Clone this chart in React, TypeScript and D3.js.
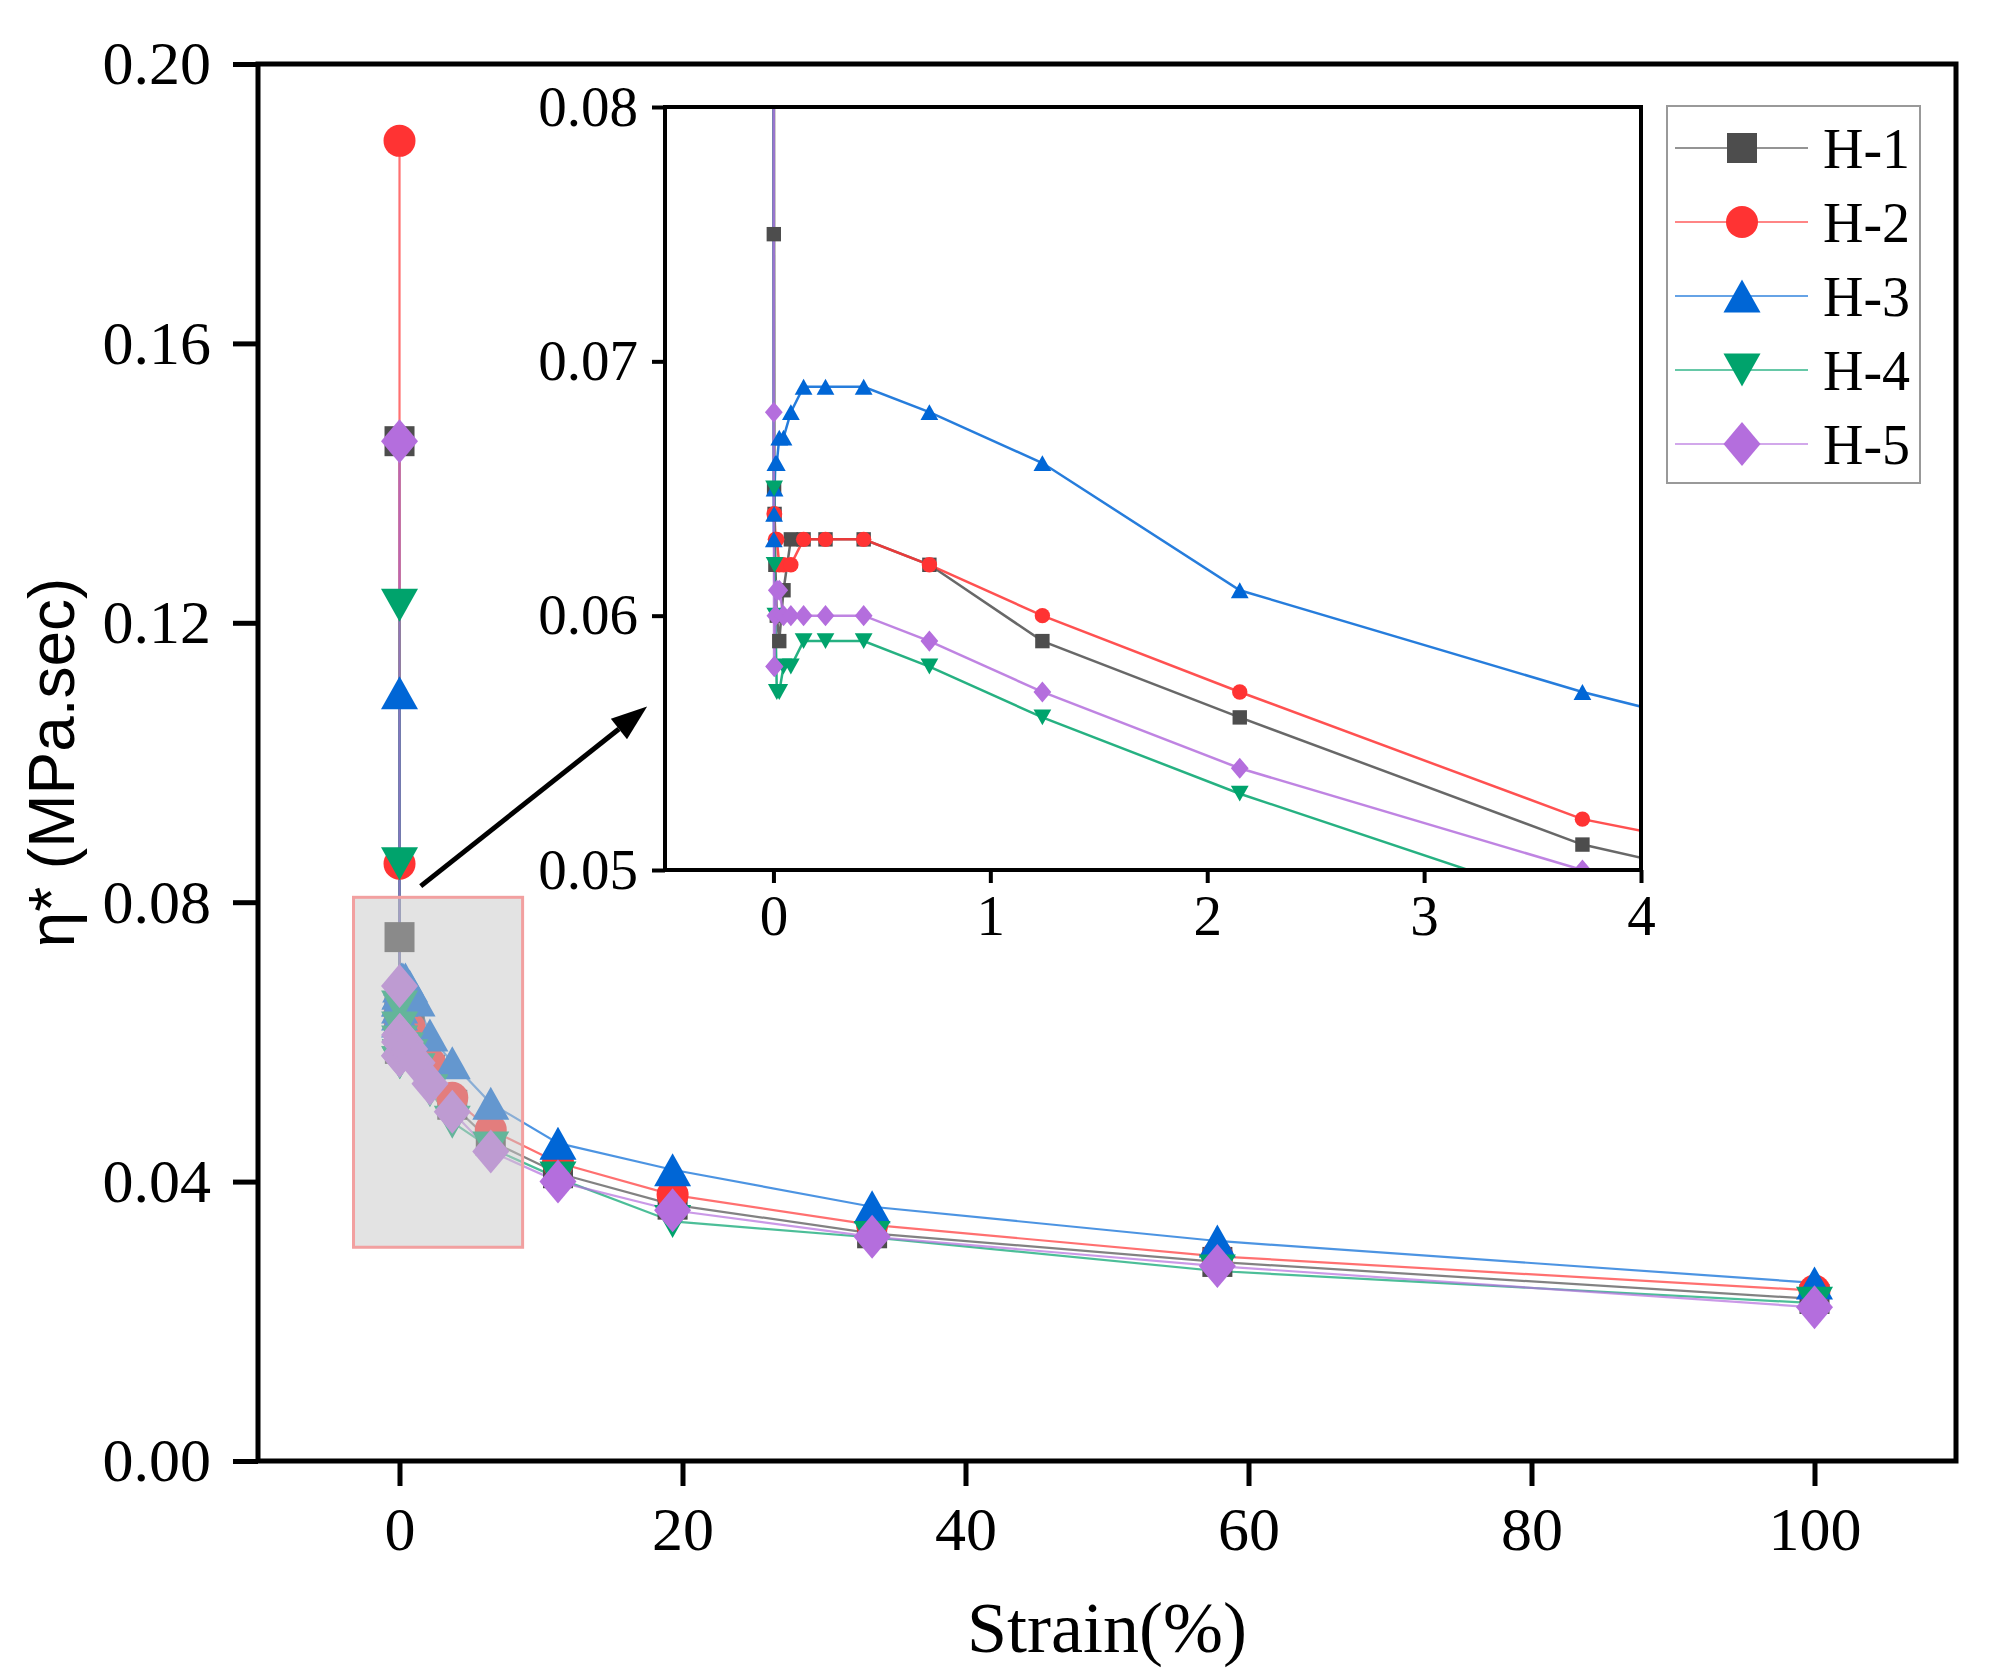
// @ts-nocheck
import { useEffect, useRef } from "react";
import * as d3 from "d3";

// strain (%) of every sweep point
const strain = [
  0.001, 0.00173, 0.00299, 0.00518, 0.00896, 0.0155, 0.0268, 0.0464, 0.0803,
  0.139, 0.24, 0.416, 0.719, 1.24, 2.15, 3.73, 6.45, 11.2, 19.3, 33.4, 57.8, 100,
];

// complex viscosity (MPa.sec)
const h1 = [
  0.146, 0.075, 0.065, 0.064, 0.062, 0.06, 0.059, 0.061, 0.063, 0.063, 0.063,
  0.063, 0.062, 0.059, 0.056, 0.051, 0.0458, 0.0412, 0.0367, 0.0326, 0.0285, 0.0232,
];
const h2 = [
  0.189, 0.0855, 0.064, 0.064, 0.063, 0.063, 0.062, 0.062, 0.062, 0.063, 0.063,
  0.063, 0.062, 0.06, 0.057, 0.052, 0.0474, 0.0427, 0.0381, 0.0338, 0.0293, 0.0244,
];
const h3 = [
  0.11, 0.063, 0.064, 0.065, 0.066, 0.066, 0.067, 0.067, 0.068, 0.069, 0.069,
  0.069, 0.068, 0.066, 0.061, 0.057, 0.0512, 0.0455, 0.0417, 0.0364, 0.0315, 0.0255,
];
const h4 = [
  0.1225, 0.0855, 0.065, 0.062, 0.06, 0.057, 0.057, 0.058, 0.058, 0.059, 0.059,
  0.059, 0.058, 0.056, 0.053, 0.0485, 0.0448, 0.0405, 0.0343, 0.032, 0.0272, 0.0226,
];
const h5 = [
  0.146, 0.068, 0.058, 0.058, 0.06, 0.061, 0.061, 0.06, 0.06, 0.06, 0.06, 0.06,
  0.059, 0.057, 0.054, 0.05, 0.0443, 0.04, 0.0359, 0.0321, 0.0279, 0.022,
];

const seriesNames = ["H-1", "H-2", "H-3", "H-4", "H-5"];
const seriesValues = [h1, h2, h3, h4, h5];
const seriesColors = ["#4d4d4d", "#ff3333", "#0066d6", "#00a36c", "#b46edd"];
const seriesShapes = ["square", "circle", "up", "down", "diamond"];

const mainXTicks = [0, 20, 40, 60, 80, 100];
const mainYTicks = [0, 0.04, 0.08, 0.12, 0.16, 0.2];
const insetXTicks = [0, 1, 2, 3, 4];
const insetYTicks = [0.05, 0.06, 0.07, 0.08];

// zoom box and arrow, in main-axis units
const zoomBox = { x0: -3.25, x1: 8.7, y0: 0.0306, y1: 0.0807 };
const arrow = { x0: 1.5, y0: 0.0823, x1: 17.5, y1: 0.108 };

const W = 2006;
const H = 1679;
const FONT = "'Liberation Serif', 'Times New Roman', serif";
const SANS = "'Liberation Sans', Arial, sans-serif";

const markerPath = (shape, k) => {
  if (shape === "square") {
    const s = 30 * k;
    return `M${-s / 2},${-s / 2}h${s}v${s}h${-s}Z`;
  }
  if (shape === "circle") {
    const r = 16 * k;
    return `M${r},0A${r},${r} 0 1,1 ${-r},0A${r},${r} 0 1,1 ${r},0Z`;
  }
  if (shape === "up") {
    const w = 37 * k, h = 33 * k;
    return `M0,${-h / 2}L${w / 2},${h / 2}L${-w / 2},${h / 2}Z`;
  }
  if (shape === "down") {
    const w = 37 * k, h = 33 * k;
    return `M0,${h / 2}L${w / 2},${-h / 2}L${-w / 2},${-h / 2}Z`;
  }
  const w = 37 * k, h = 44 * k;
  return `M0,${-h / 2}L${w / 2},0L0,${h / 2}L${-w / 2},0Z`;
};

export default function App() {
  const ref = useRef();

  useEffect(() => {
    document.body.style.margin = "0";
    const svg = d3.select(ref.current);
    svg.selectAll("*").remove();

    const main = { left: 258, right: 1956, top: 64, bottom: 1461 };
    const inset = { left: 665, right: 1641, top: 107, bottom: 870 };

    const x = d3.scaleLinear().domain([-10, 110]).range([main.left, main.right]);
    const y = d3.scaleLinear().domain([0, 0.2]).range([main.bottom, main.top]);
    const xi = d3.scaleLinear().domain([-0.5, 4]).range([inset.left, inset.right]);
    const yi = d3.scaleLinear().domain([0.05, 0.08]).range([inset.bottom, inset.top]);

    svg.append("rect").attr("width", W).attr("height", H).attr("fill", "#fff");

    // main series
    const mainG = svg.append("g");
    seriesValues.forEach((vals, s) => {
      const pts = vals.map((v, i) => [strain[i], v]);
      mainG
        .append("path")
        .datum(pts)
        .attr("fill", "none")
        .attr("stroke", seriesColors[s])
        .attr("stroke-opacity", 0.7)
        .attr("stroke-width", 2.2)
        .attr("d", d3.line().x((d) => x(d[0])).y((d) => y(d[1])));
    });
    seriesValues.forEach((vals, s) => {
      mainG
        .selectAll(null)
        .data(vals.map((v, i) => [strain[i], v]))
        .join("path")
        .attr("transform", (d) => `translate(${x(d[0])},${y(d[1])})`)
        .attr("d", markerPath(seriesShapes[s], 1))
        .attr("fill", seriesColors[s]);
    });

    // zoom box
    svg
      .append("rect")
      .attr("x", x(zoomBox.x0))
      .attr("y", y(zoomBox.y1))
      .attr("width", x(zoomBox.x1) - x(zoomBox.x0))
      .attr("height", y(zoomBox.y0) - y(zoomBox.y1))
      .attr("fill", "rgba(200,200,200,0.5)")
      .attr("stroke", "#f2a0a0")
      .attr("stroke-width", 3);

    // arrow
    const ax0 = x(arrow.x0), ay0 = y(arrow.y0), ax1 = x(arrow.x1), ay1 = y(arrow.y1);
    const ang = Math.atan2(ay1 - ay0, ax1 - ax0);
    const hl = 36, hw = 13;
    const bx = ax1 - hl * Math.cos(ang), by = ay1 - hl * Math.sin(ang);
    svg
      .append("line")
      .attr("x1", ax0).attr("y1", ay0).attr("x2", bx).attr("y2", by)
      .attr("stroke", "#000").attr("stroke-width", 5);
    svg
      .append("path")
      .attr(
        "d",
        `M${ax1},${ay1}L${bx + hw * Math.sin(ang)},${by - hw * Math.cos(ang)}L${bx - hw * Math.sin(ang)},${by + hw * Math.cos(ang)}Z`
      )
      .attr("fill", "#000");

    // inset
    svg
      .append("defs")
      .append("clipPath")
      .attr("id", "insetClip")
      .append("rect")
      .attr("x", inset.left)
      .attr("y", inset.top)
      .attr("width", inset.right - inset.left)
      .attr("height", inset.bottom - inset.top);
    svg
      .append("rect")
      .attr("x", inset.left).attr("y", inset.top)
      .attr("width", inset.right - inset.left)
      .attr("height", inset.bottom - inset.top)
      .attr("fill", "#fff");
    const insetG = svg.append("g").attr("clip-path", "url(#insetClip)");
    seriesValues.forEach((vals, s) => {
      const pts = vals.map((v, i) => [strain[i], v]);
      insetG
        .append("path")
        .datum(pts)
        .attr("fill", "none")
        .attr("stroke", seriesColors[s])
        .attr("stroke-opacity", 0.85)
        .attr("stroke-width", 2.5)
        .attr("d", d3.line().x((d) => xi(d[0])).y((d) => yi(d[1])));
    });
    seriesValues.forEach((vals, s) => {
      insetG
        .selectAll(null)
        .data(vals.map((v, i) => [strain[i], v]).filter((d) => d[0] < 4.5))
        .join("path")
        .attr("transform", (d) => `translate(${xi(d[0])},${yi(d[1])})`)
        .attr("d", markerPath(seriesShapes[s], 0.48))
        .attr("fill", seriesColors[s]);
    });
    svg
      .append("rect")
      .attr("x", inset.left).attr("y", inset.top)
      .attr("width", inset.right - inset.left)
      .attr("height", inset.bottom - inset.top)
      .attr("fill", "none")
      .attr("stroke", "#000")
      .attr("stroke-width", 4);

    const insetXAxis = svg
      .append("g")
      .attr("transform", `translate(0,${inset.bottom})`)
      .call(d3.axisBottom(xi).tickValues(insetXTicks).tickFormat(d3.format("d")).tickSizeInner(13).tickSizeOuter(0).tickPadding(12));
    const insetYAxis = svg
      .append("g")
      .attr("transform", `translate(${inset.left},0)`)
      .call(d3.axisLeft(yi).tickValues(insetYTicks).tickFormat(d3.format(".2f")).tickSizeInner(13).tickSizeOuter(0).tickPadding(14));
    [insetXAxis, insetYAxis].forEach((g) => {
      g.select(".domain").remove();
      g.selectAll(".tick line").attr("stroke", "#000").attr("stroke-width", 4);
      g.selectAll(".tick text")
        .attr("font-family", FONT)
        .attr("font-size", 57)
        .attr("fill", "#000");
    });

    // main frame and axes
    svg
      .append("rect")
      .attr("x", main.left).attr("y", main.top)
      .attr("width", main.right - main.left)
      .attr("height", main.bottom - main.top)
      .attr("fill", "none")
      .attr("stroke", "#000")
      .attr("stroke-width", 5);
    const xAxis = svg
      .append("g")
      .attr("transform", `translate(0,${main.bottom})`)
      .call(d3.axisBottom(x).tickValues(mainXTicks).tickFormat(d3.format("d")).tickSizeInner(25).tickSizeOuter(0).tickPadding(20));
    const yAxis = svg
      .append("g")
      .attr("transform", `translate(${main.left},0)`)
      .call(d3.axisLeft(y).tickValues(mainYTicks).tickFormat(d3.format(".2f")).tickSizeInner(25).tickSizeOuter(0).tickPadding(22));
    [xAxis, yAxis].forEach((g) => {
      g.select(".domain").remove();
      g.selectAll(".tick line").attr("stroke", "#000").attr("stroke-width", 5);
      g.selectAll(".tick text")
        .attr("font-family", FONT)
        .attr("font-size", 62)
        .attr("fill", "#000");
    });

    // axis titles
    svg
      .append("text")
      .attr("x", (main.left + main.right) / 2)
      .attr("y", 1652)
      .attr("text-anchor", "middle")
      .attr("font-family", FONT)
      .attr("font-size", 72)
      .text("Strain(%)");
    svg
      .append("text")
      .attr("transform", `translate(74,${(main.top + main.bottom) / 2}) rotate(-90)`)
      .attr("text-anchor", "middle")
      .attr("font-family", SANS)
      .attr("font-size", 64)
      .text("η* (MPa.sec)");

    // legend
    const lg = svg.append("g");
    lg.append("rect")
      .attr("x", 1667).attr("y", 106)
      .attr("width", 253).attr("height", 377)
      .attr("fill", "#fff")
      .attr("stroke", "#999")
      .attr("stroke-width", 2);
    seriesNames.forEach((name, s) => {
      const ly = 148 + s * 74;
      lg.append("line")
        .attr("x1", 1675).attr("x2", 1808).attr("y1", ly).attr("y2", ly)
        .attr("stroke", seriesColors[s]).attr("stroke-opacity", 0.6).attr("stroke-width", 2);
      lg.append("path")
        .attr("transform", `translate(1742,${ly})`)
        .attr("d", markerPath(seriesShapes[s], 1))
        .attr("fill", seriesColors[s]);
      lg.append("text")
        .attr("x", 1823).attr("y", ly).attr("dy", "0.35em")
        .attr("font-family", FONT).attr("font-size", 56)
        .text(name);
    });
  }, []);

  return <svg ref={ref} width={W} height={H} style={{ display: "block" }} />;
}
